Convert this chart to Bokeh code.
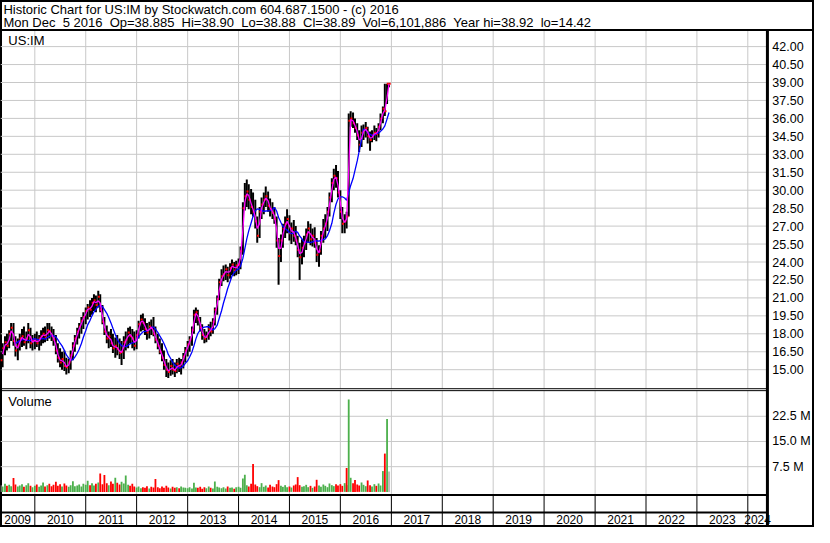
import numpy as np
import pandas as pd
from bokeh.plotting import figure
from bokeh.models import Range1d, ColumnDataSource
from bokeh.core.properties import value
from bokeh.embed import file_html
from bokeh.resources import INLINE

# ---------------- data ----------------
NB = "\u00a0"
header_1 = "Historic Chart for US:IM by Stockwatch.com 604.687.1500 - (c) 2016"
header_2 = ("Mon Dec " + NB + "5 2016 " + NB + "Op=38.885 " + NB + "Hi=38.90 " + NB + "Lo=38.88 " + NB +
            "Cl=38.89 " + NB + "Vol=6,101,886 " + NB + "Year hi=38.92 " + NB + "lo=14.42")
symbol = "US:IM"
volume_title = "Volume"

first_period = "2009-05-01"   # semi-monthly periods

high = [16.4, 17.2, 17.8, 18.0, 18.3, 18.9, 18.9, 17.8, 17.6, 18.0, 18.4, 18.6, 18.2, 18.9, 18.5, 17.9,
        18.0, 18.2, 17.9, 18.3, 18.5, 18.6, 18.9, 18.9, 18.6, 18.4, 17.9, 17.2, 16.8, 16.5, 16.6, 16.0,
        15.9, 16.6, 17.3, 17.9, 18.5, 18.9, 19.4, 19.8, 20.2, 20.5, 20.8, 21.0, 21.3, 21.2, 21.6, 21.3,
        20.4, 19.4, 18.7, 18.2, 18.4, 18.0, 17.7, 17.9, 17.6, 17.4, 17.8, 18.2, 18.5, 18.6, 18.4, 18.2,
        18.3, 19.1, 19.6, 19.7, 19.3, 18.9, 19.0, 19.2, 19.4, 18.6, 18.0, 17.6, 17.2, 16.6, 15.9, 15.6,
        15.8, 15.9, 15.6, 15.9, 16.0, 15.9, 16.4, 16.9, 17.4, 17.8, 18.6, 20.0, 20.2, 20.0, 19.4, 18.8,
        18.4, 18.2, 18.8, 19.0, 19.3, 20.2, 21.2, 22.6, 23.4, 23.7, 23.8, 23.6, 23.9, 24.2, 24.0, 24.1,
        24.3, 25.3, 29.0, 30.6, 30.9, 30.5, 30.1, 29.8, 29.2, 27.8, 28.6, 29.4, 29.8, 30.3, 29.9, 29.3,
        29.0, 28.6, 27.8, 26.0, 26.3, 27.2, 27.8, 28.4, 27.9, 27.3, 27.5, 27.0, 26.2, 25.6, 25.9, 26.2,
        26.8, 27.4, 27.2, 26.8, 26.9, 26.0, 25.4, 26.6, 27.6, 28.0, 28.6, 29.8, 31.0, 31.8, 32.1, 31.6,
        30.0, 28.6, 28.0, 28.2, 36.4, 36.6, 36.5, 36.0, 35.6, 35.0, 35.4, 35.5, 35.7, 35.3, 34.9, 35.0,
        35.4, 35.2, 35.6, 36.4, 37.0, 38.9, 38.9, 38.92]
low = [14.6, 15.2, 16.2, 16.6, 16.8, 17.4, 17.0, 16.1, 15.8, 16.6, 16.9, 17.0, 16.7, 17.2, 16.8, 16.6,
       16.7, 16.9, 16.6, 17.0, 17.2, 17.3, 17.4, 17.6, 17.4, 17.0, 16.3, 15.6, 15.2, 15.0, 14.9, 14.6,
       14.7, 15.0, 15.8, 16.5, 17.1, 17.6, 18.0, 18.4, 18.8, 19.2, 19.4, 19.6, 19.9, 19.8, 20.2, 19.8,
       18.8, 17.9, 17.2, 16.8, 16.9, 16.4, 16.0, 16.2, 15.9, 15.4, 15.9, 16.6, 16.8, 17.2, 16.8, 16.6,
       16.7, 17.6, 18.2, 18.3, 17.9, 17.5, 17.6, 17.9, 17.8, 17.2, 16.7, 16.3, 15.7, 15.0, 14.4, 14.3,
       14.5, 14.6, 14.4, 14.7, 14.8, 14.6, 15.1, 15.6, 16.1, 16.5, 17.0, 18.0, 18.9, 18.7, 18.2, 17.5,
       17.2, 17.3, 17.5, 17.8, 18.0, 18.7, 19.6, 20.8, 22.0, 22.4, 22.5, 22.3, 22.6, 22.9, 22.8, 22.9,
       23.0, 23.4, 24.6, 28.3, 28.6, 28.4, 28.0, 27.8, 26.8, 25.6, 26.0, 27.6, 28.0, 28.6, 28.2, 27.8,
       27.6, 27.2, 25.2, 22.1, 24.0, 25.2, 26.0, 26.4, 25.8, 25.5, 25.7, 25.4, 24.4, 22.5, 23.8, 24.4,
       25.0, 25.6, 25.4, 25.3, 25.2, 24.0, 23.6, 24.6, 25.6, 26.0, 26.6, 27.8, 29.0, 30.0, 30.2, 29.4,
       27.6, 26.4, 26.4, 26.8, 27.8, 35.3, 35.2, 34.8, 34.2, 33.2, 33.6, 34.2, 34.4, 33.9, 33.3, 34.0,
       34.2, 34.1, 34.4, 35.0, 35.6, 36.2, 37.2, 38.6]
close = [15.8, 16.8, 17.3, 17.0, 18.0, 18.5, 17.4, 16.6, 17.0, 17.6, 17.8, 17.3, 17.6, 18.3, 17.2, 17.4,
         17.5, 17.2, 17.6, 17.8, 18.0, 17.7, 18.3, 18.2, 17.8, 17.5, 16.6, 16.0, 15.6, 15.9, 15.3, 15.2,
         15.6, 16.2, 17.0, 17.6, 18.2, 18.6, 19.1, 19.4, 19.9, 20.2, 20.0, 20.6, 20.8, 20.4, 21.1, 20.0,
         19.0, 18.2, 17.6, 17.8, 17.2, 16.8, 17.0, 16.7, 16.4, 16.5, 17.3, 17.5, 18.1, 17.8, 17.6, 17.0,
         17.9, 18.8, 19.2, 18.9, 18.4, 18.1, 18.6, 18.5, 18.0, 17.5, 17.0, 16.5, 16.0, 15.4, 15.0, 14.8,
         15.3, 15.0, 14.9, 15.5, 15.2, 15.6, 16.1, 16.6, 17.1, 17.5, 18.3, 19.6, 19.8, 19.2, 18.5, 17.9,
         17.6, 17.8, 18.4, 18.2, 19.0, 20.0, 20.9, 22.3, 22.8, 23.0, 23.4, 22.9, 23.5, 23.8, 23.3, 23.7,
         23.8, 24.9, 28.5, 29.5, 29.9, 29.2, 28.6, 28.2, 27.4, 26.2, 28.2, 28.8, 29.2, 29.5, 28.7, 28.4,
         28.1, 27.6, 25.8, 24.5, 25.8, 26.8, 27.2, 27.6, 26.4, 26.8, 26.2, 25.8, 25.0, 24.4, 25.2, 25.6,
         26.3, 26.8, 25.9, 26.2, 25.6, 24.6, 24.9, 26.2, 26.8, 27.2, 28.2, 29.4, 30.6, 31.2, 31.0, 29.8,
         28.2, 27.2, 27.4, 27.8, 35.8, 36.0, 35.6, 35.2, 34.6, 33.8, 34.8, 35.0, 35.2, 34.5, 34.2, 34.6,
         34.8, 34.7, 35.3, 36.0, 36.8, 36.6, 38.89, 38.89]
volume_m = [2.0, 1.6, 2.4, 1.8, 2.1, 1.7, 4.1, 2.2, 1.6, 1.9, 2.3, 1.5, 2.0, 2.6, 1.8, 1.4,
            1.8, 2.2, 1.5, 1.9, 2.8, 1.6, 2.0, 2.4, 1.7, 2.1, 3.0, 1.8, 2.3, 1.6, 2.5, 1.9,
            1.5, 2.0, 3.2, 1.7, 1.9, 2.2, 1.6, 2.4, 2.1, 3.3, 2.0, 2.6, 1.9, 2.4, 2.8, 5.5,
            2.3, 5.0, 2.6, 2.0, 3.1, 2.4, 4.2, 2.7, 2.2, 3.0, 2.5, 4.9, 2.1, 1.8, 2.4, 1.6,
            1.3, 1.6, 1.1, 1.4, 1.2, 1.7, 1.0, 1.5, 1.3, 3.8, 1.4, 1.1, 1.6, 1.2, 1.8, 1.3,
            1.0, 1.5, 1.2, 1.4, 1.1, 1.6, 1.3, 1.2, 1.1, 1.4, 1.0, 2.7, 1.3, 1.2, 1.5, 0.9,
            1.4, 1.1, 1.6, 1.2, 1.0, 3.1, 1.5, 1.3, 1.1, 1.4, 1.0, 1.6, 1.2, 1.3, 0.9, 1.4,
            1.5, 1.2, 4.0, 5.1, 2.0, 1.6, 2.4, 8.3, 2.2, 1.7, 1.4, 2.6, 1.5, 1.9, 1.3, 2.1,
            1.6, 1.4, 2.3, 3.5, 1.8, 1.5, 2.0, 1.4, 1.6, 1.3, 1.9, 2.2, 4.4, 2.0, 1.5, 1.7,
            2.1, 1.4, 1.8, 1.2, 1.6, 3.6, 1.9, 1.5, 2.2, 1.8, 1.4, 2.5, 2.0, 1.7, 2.3, 1.9,
            2.3, 1.8, 2.6, 2.0, 27.5, 4.2, 2.6, 3.5, 2.2, 1.9, 2.8, 2.1, 1.7, 3.4, 2.0, 1.6,
            2.3, 1.8, 2.5, 1.9, 6.2, 11.4, 21.7, 6.1]
overlay_period = ["2016-02-15"]      # red part drawn over the big green volume bar
overlay_volume_m = [7.1]

price_ticks = [15.0, 16.5, 18.0, 19.5, 21.0, 22.5, 24.0, 25.5, 27.0, 28.5,
               30.0, 31.5, 33.0, 34.5, 36.0, 37.5, 39.0, 40.5, 42.0]
price_tick_labels = ["15.00", "16.50", "18.00", "19.50", "21.00", "22.50", "24.00", "25.50", "27.00", "28.50",
                     "30.00", "31.50", "33.00", "34.50", "36.00", "37.50", "39.00", "40.50", "42.00"]
vol_ticks = [7.5, 15.0, 22.5]
vol_tick_labels = ["7.5 M", "15.0 M", "22.5 M"]
year_labels = list(range(2009, 2025))

FAST_PERIODS, SLOW_PERIODS = 2, 8     # ~20-day and ~80-day averages on semi-monthly closes

# ---------------- layout (reference pixel geometry) ----------------
W_REF, H_REF = 830, 543
W, H = 814, 527
X_2010, X_2024 = 35.0, 762.0           # px of Jan 1 2010 / Jan 1 2024
PANEL_RIGHT = 782.0
PRICE_TOP, PRICE_BOT = 31.0, 400.0
VOL_TOP, VOL_BOT = 402.0, 509.5
YEAR_MID, YEAR_BOT = 527.5, 541.5
P42_Y, PX_PER_UNIT = 47.5, 12.33        # price 42 at y=47.5
V0_Y, PX_PER_M = 506.3, 3.462            # volume zero line

GRID = "#C8C8C8"
FONT = value("Liberation Sans")
DAY = 86400000.0

def ms(ts):
    return pd.Timestamp(ts).value / 1e6

t2010 = ms("2010-01-01")
ms_per_px = (ms("2024-01-01") - t2010) / (X_2024 - X_2010)
def px_to_ms(xp):
    return t2010 + (xp - X_2010) * ms_per_px

t_left, t_right = px_to_ms(0), px_to_ms(W_REF)
t_panel_right = px_to_ms(PANEL_RIGHT)

price_top = 42 + P42_Y / PX_PER_UNIT
price_bot = 42 - (H_REF - P42_Y) / PX_PER_UNIT
vol_top = V0_Y / PX_PER_M
vol_bot = -(H_REF - V0_Y) / PX_PER_M

dates = pd.date_range(first_period, periods=len(close), freq="SMS")
xd = np.array([ms(d) for d in dates])
cl = pd.Series(close)
ma_fast = cl.rolling(FAST_PERIODS).mean()
ma_slow = cl.rolling(SLOW_PERIODS).mean()
diff = cl.diff().fillna(0)
vcolor = ["#4CB04C" if d > 0 else ("#FF0000" if d < 0 else "#BDB3B3") for d in diff]

src = ColumnDataSource(dict(x=xd, xt=xd + 5 * DAY, high=high, low=low, close=close,
                            ma_fast=ma_fast.values, ma_slow=ma_slow.values,
                            vol=volume_m, vcolor=vcolor))

p = figure(width=W, height=H, output_backend="svg", toolbar_location=None,
           x_range=Range1d(t_left, t_right), y_range=Range1d(H_REF, 0),
           x_axis_location=None, y_axis_location=None, min_border=0)
p.grid.visible = False
p.outline_line_color = "black"
p.outline_line_width = 3
p.background_fill_color = "white"
p.border_fill_color = "white"
p.extra_x_ranges = {"px": Range1d(0, W_REF)}
p.extra_y_ranges = {"price": Range1d(price_bot, price_top), "vol": Range1d(vol_bot, vol_top)}

# vertical year gridlines
year_bounds = [ms(f"{y}-01-01") for y in range(2010, 2025)]
n = len(year_bounds)
p.segment(x0=year_bounds, x1=year_bounds, y0=[PRICE_TOP] * n, y1=[PRICE_BOT] * n, line_color=GRID, line_width=1)
p.segment(x0=year_bounds, x1=year_bounds, y0=[VOL_TOP] * n, y1=[VOL_BOT] * n, line_color=GRID, line_width=1)
# horizontal gridlines
m = len(price_ticks)
p.segment(x0=[0] * m, x1=[PANEL_RIGHT] * m, y0=price_ticks, y1=price_ticks,
          x_range_name="px", y_range_name="price", line_color=GRID, line_width=1)
k = len(vol_ticks)
p.segment(x0=[0] * k, x1=[PANEL_RIGHT] * k, y0=vol_ticks, y1=vol_ticks,
          x_range_name="px", y_range_name="vol", line_color=GRID, line_width=1)

# volume
p.vbar(x="x", top="vol", bottom=0, width=13 * DAY, source=src, y_range_name="vol",
       fill_color="vcolor", line_color=None)
p.vbar(x=[ms(d) for d in overlay_period], top=overlay_volume_m, bottom=0, width=13 * DAY,
       y_range_name="vol", fill_color="#FF0000", line_color=None)

# price bars
p.segment(x0="x", x1="x", y0="low", y1="high", source=src, y_range_name="price",
          line_color="black", line_width=2)
p.scatter(x="xt", y="close", source=src, y_range_name="price", marker="square", size=2,
          fill_color="#FF0000", line_color=None)
p.line(x="x", y="ma_slow", source=src, y_range_name="price", line_color="#0000FF", line_width=1.3)
p.line(x="x", y="ma_fast", source=src, y_range_name="price", line_color="#FF00FF", line_width=1.3)

# structure lines
p.segment(x0=[0], x1=[W_REF], y0=[30.5], y1=[30.5], x_range_name="px", line_color="black", line_width=2)
p.segment(x0=[0, 0], x1=[PANEL_RIGHT, PANEL_RIGHT], y0=[400.0, 402.0], y1=[400.0, 402.0],
          x_range_name="px", line_color="black", line_width=1)
p.segment(x0=[0, 0], x1=[PANEL_RIGHT, PANEL_RIGHT], y0=[VOL_BOT, YEAR_MID], y1=[VOL_BOT, YEAR_MID],
          x_range_name="px", line_color="black", line_width=2)
p.segment(x0=year_bounds, x1=year_bounds, y0=[VOL_BOT] * n, y1=[YEAR_BOT] * n, line_color="black", line_width=1)
p.segment(x0=[PANEL_RIGHT], x1=[PANEL_RIGHT], y0=[31], y1=[H_REF], x_range_name="px",
          line_color="black", line_width=3)

# texts
p.text(x=[3, 3], y=[9.5, 22.5], text=[header_1, header_2], x_range_name="px",
       text_font=FONT, text_font_size="13px", text_baseline="middle", text_align="left", text_color="black")
p.text(x=[8, 8], y=[41.5, 413], text=[symbol, volume_title], x_range_name="px",
       text_font=FONT, text_font_size="13px", text_baseline="middle", text_align="left", text_color="black")
p.text(x=[787] * m, y=price_ticks, text=price_tick_labels, x_range_name="px", y_range_name="price",
       text_font=FONT, text_font_size="12.5px", text_baseline="middle", text_align="left", text_color="black")
p.text(x=[787] * k, y=vol_ticks, text=vol_tick_labels, x_range_name="px", y_range_name="vol",
       text_font=FONT, text_font_size="12.5px", text_baseline="middle", text_align="left", text_color="black")

yl_x = []
for yv in year_labels:
    a = max(ms(f"{yv}-01-01"), t_left)
    b = min(ms(f"{yv + 1}-01-01"), t_panel_right)
    yl_x.append((a + b) / 2)
p.text(x=yl_x, y=[535] * len(year_labels), text=[str(v) for v in year_labels],
       text_font=FONT, text_font_size="12px", text_baseline="middle", text_align="center", text_color="black")

open("out.html", "w").write(file_html(p, INLINE))
